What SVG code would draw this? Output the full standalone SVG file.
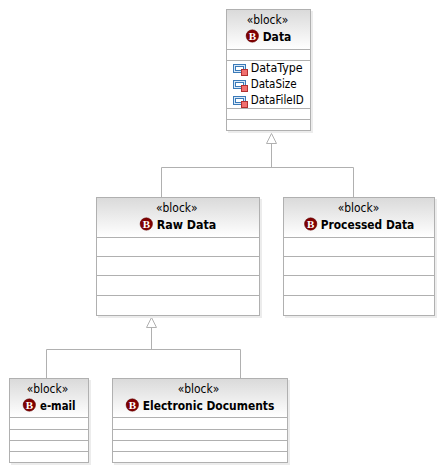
<svg xmlns="http://www.w3.org/2000/svg" xmlns:xlink="http://www.w3.org/1999/xlink" width="448" height="475" viewBox="0 0 448 475">
<style>
text{font-family:"DejaVu Sans","Liberation Sans",sans-serif;font-size:12px;fill:#000}
.n{font-weight:bold}
.s{fill:#ececec}
.b{fill:#fff;stroke:#b0b0b0;stroke-width:1}
.l{stroke:#b0b0b0;stroke-width:1;fill:none}
.i{fill:#800000;stroke:#5a0000;stroke-width:.5}
.t{font-family:"Liberation Serif",serif;font-size:11px;font-weight:bold;fill:#fff;text-anchor:middle}
</style>
<defs>
<linearGradient id="g" x1="0" y1="0" x2="0" y2="1"><stop offset="0" stop-color="#dadada"/><stop offset="1" stop-color="#ffffff"/></linearGradient>
<g id="p">
<rect x="0.5" y="0.5" width="12" height="8" fill="#d8e8f8" stroke="#3a7ab8"/>
<rect x="2.5" y="2.5" width="8" height="4" fill="#fff" stroke="#3a7ab8"/>
<rect x="8.5" y="5.5" width="6" height="6" fill="#f07070" stroke="#b03030"/>
</g>
</defs>
<g id="connectors">
<path class="l" d="M271.5 143.5V167.5M161.5 197.5V167.5H353.5V197.5"/>
<path class="l" d="M266.5 143.5L271.5 133.5L276.5 143.5Z"/>
<path class="l" d="M151.5 327.5V349.5M46.5 378.5V349.5H240.5V378.5"/>
<path class="l" d="M146.5 327.5L151.5 317.5L156.5 327.5Z"/>
</g>
<g id="data">
<rect class="s" x="228" y="11" width="85" height="122"/>
<rect class="b" x="226.5" y="9.5" width="84" height="121"/>
<rect x="227" y="10" width="83" height="39" fill="url(#g)"/>
<path class="l" d="M226.5 49.5H310.5M226.5 60.5H310.5M226.5 108.5H310.5M226.5 119.5H310.5"/>
<text x="246.7" y="24" textLength="41.6" lengthAdjust="spacingAndGlyphs">«block»</text>
<circle class="i" cx="252.3" cy="36" r="6.2"/><text class="t" x="252.3" y="39.6">B</text>
<text class="n" x="262.7" y="40.5" textLength="28.6" lengthAdjust="spacingAndGlyphs">Data</text>
<use xlink:href="#p" href="#p" x="233" y="64"/>
<text x="250.7" y="72" textLength="52" lengthAdjust="spacingAndGlyphs">DataType</text>
<use xlink:href="#p" href="#p" x="233" y="80"/>
<text x="250.7" y="88" textLength="46" lengthAdjust="spacingAndGlyphs">DataSize</text>
<use xlink:href="#p" href="#p" x="233" y="96"/>
<text x="250.7" y="104" textLength="53" lengthAdjust="spacingAndGlyphs">DataFileID</text>
</g>
<g id="raw-data">
<rect class="s" x="98" y="199" width="164" height="119"/>
<rect class="b" x="96.5" y="197.5" width="163" height="118"/>
<rect x="97" y="198" width="162" height="39" fill="url(#g)"/>
<path class="l" d="M96.5 237.5H259.5M96.5 256.5H259.5M96.5 275.5H259.5M96.5 295.5H259.5"/>
<text x="156" y="212" textLength="41.6" lengthAdjust="spacingAndGlyphs">«block»</text>
<circle class="i" cx="146.3" cy="224" r="6.2"/><text class="t" x="146.3" y="227.6">B</text>
<text class="n" x="156.7" y="229" textLength="59.6" lengthAdjust="spacingAndGlyphs">Raw Data</text>
</g>
<g id="processed-data">
<rect class="s" x="285" y="199" width="152" height="119"/>
<rect class="b" x="283.5" y="197.5" width="151" height="118"/>
<rect x="284" y="198" width="150" height="39" fill="url(#g)"/>
<path class="l" d="M283.5 237.5H434.5M283.5 256.5H434.5M283.5 275.5H434.5M283.5 295.5H434.5"/>
<text x="337.7" y="212" textLength="41.6" lengthAdjust="spacingAndGlyphs">«block»</text>
<circle class="i" cx="310.7" cy="224" r="6.2"/><text class="t" x="310.7" y="227.6">B</text>
<text class="n" x="320.7" y="229" textLength="93.6" lengthAdjust="spacingAndGlyphs">Processed Data</text>
</g>
<g id="e-mail">
<rect class="s" x="11" y="380" width="80" height="85"/>
<rect class="b" x="9.5" y="378.5" width="79" height="84"/>
<rect x="10" y="379" width="78" height="38" fill="url(#g)"/>
<path class="l" d="M9.5 417.5H88.5M9.5 429.5H88.5M9.5 440.5H88.5M9.5 451.5H88.5"/>
<text x="26.7" y="392.5" textLength="41.6" lengthAdjust="spacingAndGlyphs">«block»</text>
<circle class="i" cx="29.3" cy="405" r="6.2"/><text class="t" x="29.3" y="408.6">B</text>
<text class="n" x="40" y="410" textLength="35.5" lengthAdjust="spacingAndGlyphs">e-mail</text>
</g>
<g id="electronic-documents">
<rect class="s" x="114" y="380" width="176" height="85"/>
<rect class="b" x="112.5" y="378.5" width="175" height="84"/>
<rect x="113" y="379" width="174" height="38" fill="url(#g)"/>
<path class="l" d="M112.5 417.5H287.5M112.5 429.5H287.5M112.5 440.5H287.5M112.5 451.5H287.5"/>
<text x="177.7" y="392.5" textLength="41.6" lengthAdjust="spacingAndGlyphs">«block»</text>
<circle class="i" cx="132.3" cy="405" r="6.2"/><text class="t" x="132.3" y="408.6">B</text>
<text class="n" x="142.7" y="410" textLength="131.6" lengthAdjust="spacingAndGlyphs">Electronic Documents</text>
</g>
</svg>
